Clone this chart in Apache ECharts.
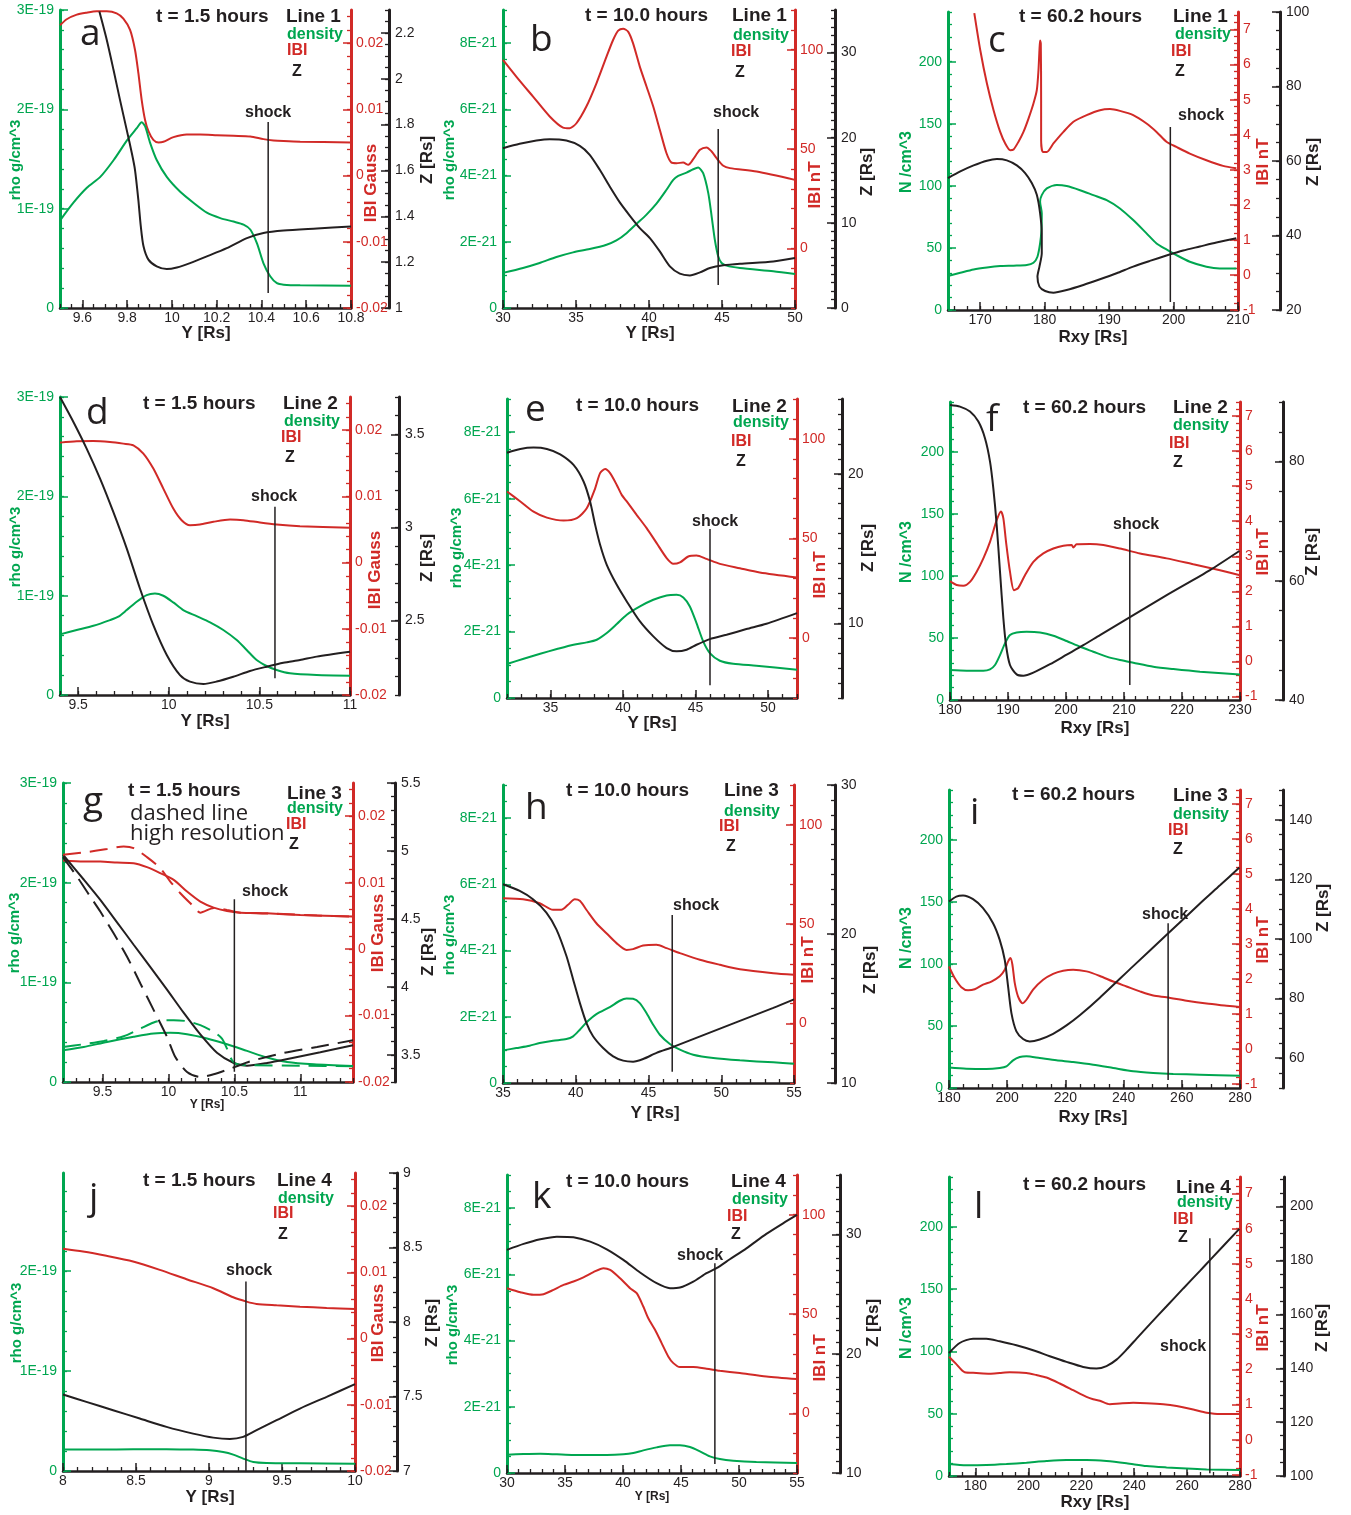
<!DOCTYPE html>
<html lang="en">
<head>
<meta charset="utf-8">
<title>Density, |B| and Z along field lines</title>
<script src="https://cdn.jsdelivr.net/npm/echarts@6.0.0/dist/echarts.min.js"></script>
<style>
  html, body { margin: 0; padding: 0; background: #fff; }
  #chart { width: 1351px; height: 1515px; }
</style>
</head>
<body>
<div id="chart"></div>
<script>
// ---------------------------------------------------------------------------
// Profiles along four field lines at t = 1.5 h, 10.0 h and 60.2 h.
// Each series is a list of [position, value] pairs.
// density: rho in 1e-19 g/cm^3 (1.5 h), 1e-21 g/cm^3 (10 h) or N in /cm^3 (60.2 h)
// field:   |B| in Gauss (1.5 h) or nT (10 h, 60.2 h)
// z:       Z in solar radii
// ---------------------------------------------------------------------------

// a: t = 1.5 h, line 1
const aDensity = [[9.5,0.88],[9.56,1.06],[9.62,1.21],[9.68,1.32],[9.74,1.49],[9.80,1.69],[9.843,1.81],[9.865,1.87],[9.88,1.83],[9.903,1.66],[9.932,1.49],[9.977,1.32],[10.037,1.17],[10.096,1.06],[10.156,0.96],[10.216,0.905],[10.275,0.87],[10.32,0.84],[10.35,0.79],[10.38,0.65],[10.409,0.45],[10.439,0.32],[10.469,0.25],[10.499,0.235],[10.573,0.228],[10.8,0.225]];
const aField = [[9.5,0.0227],[9.53,0.0236],[9.575,0.0243],[9.619,0.0246],[9.664,0.0248],[9.709,0.0248],[9.753,0.0245],[9.783,0.0237],[9.813,0.0220],[9.835,0.0190],[9.85,0.0155],[9.865,0.0114],[9.88,0.0084],[9.895,0.0067],[9.917,0.0054],[9.94,0.0050],[9.962,0.0051],[10.007,0.0058],[10.066,0.0062],[10.126,0.0062],[10.201,0.0061],[10.275,0.0060],[10.35,0.0059],[10.409,0.0055],[10.454,0.0053],[10.499,0.0052],[10.573,0.0051],[10.8,0.0050]];
const aZ = [[9.676,2.293],[9.709,2.169],[9.739,2.039],[9.768,1.908],[9.798,1.777],[9.821,1.675],[9.835,1.603],[9.85,1.472],[9.861,1.356],[9.873,1.269],[9.895,1.211],[9.932,1.182],[9.977,1.170],[10.022,1.177],[10.081,1.196],[10.156,1.225],[10.245,1.261],[10.335,1.305],[10.409,1.327],[10.499,1.338],[10.648,1.347],[10.8,1.356]];

// b: t = 10 h, line 1
const bDensity = [[30,1.06],[31.37,1.21],[32.51,1.36],[33.66,1.54],[34.80,1.68],[35.94,1.78],[37.09,1.91],[37.77,2.04],[38.46,2.26],[39.14,2.54],[39.83,2.82],[40.51,3.15],[41.20,3.57],[41.66,3.87],[42.0,3.99],[42.57,4.09],[43.03,4.19],[43.37,4.24],[43.71,4.07],[44.06,3.47],[44.29,2.77],[44.51,2.06],[44.74,1.56],[44.97,1.36],[45.31,1.28],[46.23,1.21],[48.51,1.11],[50,1.03]];
const bField = [[30,94.9],[30.91,86.5],[32.06,76.4],[33.20,66.4],[34.11,60.8],[34.57,60.5],[35.03,63.0],[35.71,71.4],[36.40,83.1],[37.09,96.5],[37.54,104.9],[37.89,109.6],[38.23,110.6],[38.57,109.1],[38.91,103.2],[39.37,91.5],[39.83,81.5],[40.29,71.4],[40.74,59.7],[41.20,47.9],[41.54,43.2],[41.89,42.9],[42.34,43.2],[42.69,42.1],[43.03,44.9],[43.49,49.6],[43.94,50.8],[44.29,48.8],[44.63,45.4],[45.09,41.6],[45.54,40.4],[47.37,38.7],[50,34.5]];
const bZ = [[30,18.77],[31.14,19.28],[32.29,19.67],[33.20,19.83],[34.34,19.67],[35.26,19.04],[35.94,17.99],[36.63,16.23],[37.31,14.27],[38.00,12.40],[38.69,10.83],[39.37,9.39],[40.06,8.21],[40.74,6.65],[41.43,4.89],[42.11,4.03],[42.80,3.83],[43.49,4.18],[44.17,4.69],[45.09,5.01],[46.23,5.20],[48.51,5.47],[50,5.87]];

// c: t = 60.2 h, line 1
const cDensity = [[165,27.4],[166.91,30.0],[168.97,32.7],[171.04,34.3],[173.10,35.4],[175.17,35.7],[177.23,36.2],[178.26,38.1],[178.88,42.9],[179.29,53.6],[179.50,64.4],[179.55,77.8],[179.29,87.2],[179.55,92.5],[180.33,97.9],[181.88,100.6],[183.42,99.8],[185.49,96.5],[187.55,92.5],[189.62,88.5],[191.68,81.8],[193.74,72.4],[195.81,61.7],[197.36,53.6],[198.90,48.8],[200.45,44.2],[202.52,38.9],[205.10,34.9],[207.16,33.5],[209.74,33.5]];
const cField = [[169.08,7.47],[170.01,6.41],[171.04,5.46],[172.07,4.70],[173.10,4.08],[173.88,3.75],[174.65,3.56],[175.17,3.58],[175.94,3.80],[176.71,4.08],[177.49,4.46],[178.26,4.89],[178.78,5.27],[179.04,5.84],[179.19,6.41],[179.29,6.69],[179.40,6.60],[179.45,4.98],[179.45,3.84],[179.71,3.51],[180.33,3.51],[181.36,3.75],[182.91,4.08],[184.46,4.37],[186.52,4.56],[188.58,4.70],[190.13,4.73],[191.68,4.68],[193.74,4.56],[195.81,4.32],[197.36,4.08],[198.90,3.80],[200.45,3.65],[202.52,3.46],[205.10,3.27],[207.68,3.11],[209.74,3.04]];
const cZ = [[165,55.43],[166.91,57.22],[168.97,58.83],[171.04,60.09],[172.59,60.54],[174.13,60.18],[175.68,58.83],[176.97,56.77],[178.00,54.08],[178.78,50.94],[179.29,46.01],[179.55,40.63],[179.55,35.25],[179.19,31.66],[178.88,28.97],[179.19,26.28],[180.07,25.11],[181.36,24.66],[183.42,25.38],[186.0,26.73],[188.58,28.25],[191.16,29.87],[193.74,31.66],[196.32,33.18],[198.90,34.62],[201.49,35.96],[204.07,37.04],[206.65,38.12],[209.74,39.28]];

// d: t = 1.5 h, line 2
const dDensity = [[9.4,0.610],[9.492,0.654],[9.584,0.697],[9.676,0.754],[9.722,0.788],[9.768,0.855],[9.823,0.939],[9.878,1.006],[9.924,1.022],[9.970,0.999],[10.025,0.932],[10.080,0.855],[10.154,0.794],[10.228,0.731],[10.301,0.654],[10.375,0.553],[10.430,0.453],[10.485,0.352],[10.540,0.292],[10.595,0.251],[10.669,0.218],[10.816,0.201],[11.0,0.194]];
const dField = [[9.4,0.01811],[9.492,0.01831],[9.584,0.01836],[9.676,0.01821],[9.749,0.01796],[9.805,0.01771],[9.860,0.01645],[9.915,0.01419],[9.970,0.01117],[10.025,0.00816],[10.071,0.0064],[10.117,0.00564],[10.172,0.00574],[10.246,0.00615],[10.338,0.0065],[10.412,0.0064],[10.503,0.00604],[10.595,0.00574],[10.724,0.00549],[11.0,0.00524]];
const dZ = [[9.4,3.70],[9.474,3.566],[9.547,3.423],[9.621,3.262],[9.694,3.083],[9.768,2.887],[9.841,2.672],[9.915,2.475],[9.989,2.315],[10.062,2.207],[10.117,2.172],[10.191,2.159],[10.264,2.172],[10.356,2.198],[10.448,2.229],[10.540,2.252],[10.632,2.273],[10.724,2.288],[10.816,2.306],[11.0,2.332]];

// e: t = 10 h, line 2
const eDensity = [[32,1.022],[33.15,1.183],[34.29,1.333],[35.44,1.473],[36.59,1.604],[37.50,1.674],[38.19,1.754],[38.88,1.954],[39.57,2.225],[40.26,2.506],[41.17,2.756],[42.09,2.956],[43.01,3.087],[43.70,3.107],[44.16,3.027],[44.61,2.756],[45.07,2.255],[45.53,1.704],[45.99,1.353],[46.68,1.122],[47.60,1.032],[49.20,0.972],[52,0.852]];
const eField = [[32,73.6],[32.92,68.6],[33.83,63.5],[34.75,60.5],[35.90,59.0],[36.82,60.2],[37.50,65.2],[38.08,75.2],[38.42,82.8],[38.77,84.9],[39.11,82.8],[39.57,76.9],[39.91,71.9],[40.26,68.6],[40.94,61.9],[41.63,55.2],[42.32,47.7],[43.01,40.2],[43.47,37.3],[43.93,38.0],[44.50,41.0],[45.07,41.5],[45.76,39.8],[46.68,37.3],[48.06,35.1],[49.43,33.0],[52,30.5]];
const eZ = [[32,21.41],[32.92,21.66],[33.83,21.75],[34.75,21.66],[35.67,21.30],[36.59,20.59],[37.28,19.48],[37.73,18.14],[38.08,16.58],[38.42,15.25],[38.88,13.91],[39.57,12.57],[40.26,11.46],[41.17,10.12],[42.09,9.12],[43.01,8.34],[43.70,8.12],[44.39,8.23],[45.07,8.56],[45.99,8.94],[47.14,9.23],[48.51,9.61],[49.89,9.97],[52,10.68]];

// f: t = 60.2 h, line 2
const fDensity = [[180,24.1],[182.87,23.6],[185.75,23.6],[186.90,24.7],[187.76,28.2],[188.62,36.2],[189.48,45.6],[190.34,52.3],[191.49,54.4],[193.22,55.0],[195.52,54.4],[197.82,51.8],[200.11,47.5],[202.41,42.9],[204.71,38.9],[207.01,34.9],[209.31,32.2],[211.61,30.0],[215.06,26.8],[218.51,24.9],[223.10,22.8],[230,20.6]];
const fField = [[180,2.29],[181.15,2.18],[182.30,2.16],[183.45,2.27],[184.60,2.56],[185.75,2.94],[186.90,3.41],[188.05,4.03],[188.79,4.28],[189.20,4.08],[189.66,3.41],[190.34,2.56],[191.03,2.03],[191.78,2.10],[192.93,2.46],[194.37,2.84],[196.09,3.08],[197.82,3.22],[199.54,3.30],[200.98,3.32],[201.26,3.25],[201.84,3.34],[204.14,3.35],[206.44,3.32],[209.31,3.22],[212.76,3.08],[217.36,2.94],[221.95,2.77],[226.55,2.60],[230,2.46]];
const fZ = [[180,89.51],[181.72,89.23],[183.45,88.39],[184.89,86.71],[186.03,83.92],[186.90,80.0],[187.47,75.52],[188.05,69.37],[188.62,61.54],[189.20,53.71],[189.66,49.23],[190.34,45.87],[191.49,44.3],[192.64,44.08],[194.37,44.6],[197.24,46.0],[200.11,47.6],[202.99,49.2],[205.86,50.9],[211.03,53.9],[217.36,57.6],[224.83,61.8],[229.89,65.0]];

// g: t = 1.5 h, line 3 (standard and high resolution runs)
const gDensity = [[9.2,0.318],[9.357,0.352],[9.534,0.402],[9.736,0.453],[9.888,0.486],[10.014,0.493],[10.141,0.479],[10.292,0.436],[10.444,0.379],[10.596,0.312],[10.748,0.245],[10.899,0.201],[11.102,0.178],[11.4,0.161]];
const gField = [[9.2,0.01334],[9.357,0.01318],[9.483,0.01318],[9.610,0.01303],[9.736,0.01293],[9.837,0.01233],[9.938,0.01143],[10.040,0.01042],[10.141,0.00866],[10.242,0.00715],[10.343,0.00625],[10.444,0.00574],[10.545,0.00549],[10.748,0.00539],[11.0,0.00514],[11.4,0.00489]];
const gZ = [[9.2,4.972],[9.357,4.79],[9.483,4.64],[9.610,4.475],[9.736,4.31],[9.863,4.145],[9.989,3.98],[10.115,3.81],[10.242,3.65],[10.368,3.515],[10.495,3.44],[10.596,3.42],[10.748,3.44],[10.950,3.479],[11.152,3.519],[11.4,3.570]];
const gDensityHiRes = [[9.2,0.352],[9.357,0.379],[9.509,0.412],[9.660,0.459],[9.787,0.536],[9.888,0.597],[9.964,0.620],[10.040,0.620],[10.141,0.610],[10.242,0.570],[10.343,0.503],[10.406,0.436],[10.444,0.335],[10.482,0.218],[10.520,0.178],[10.646,0.168],[11.0,0.164],[11.4,0.158]];
const gFieldHiRes = [[9.2,0.01419],[9.357,0.01454],[9.534,0.01505],[9.660,0.01545],[9.736,0.0152],[9.837,0.01384],[9.938,0.01218],[10.014,0.01017],[10.090,0.00841],[10.166,0.0069],[10.242,0.00549],[10.343,0.0062],[10.444,0.00589],[10.545,0.00549],[10.874,0.00529],[11.127,0.00504],[11.4,0.00489]];
const gZHiRes = [[9.2,4.954],[9.306,4.812],[9.407,4.664],[9.483,4.554],[9.584,4.394],[9.686,4.222],[9.787,4.025],[9.888,3.829],[9.989,3.632],[10.052,3.484],[10.141,3.374],[10.242,3.337],[10.343,3.357],[10.469,3.398],[10.621,3.452],[10.874,3.514],[11.127,3.558],[11.4,3.607]];

// h: t = 10 h, line 3
const hDensity = [[35,0.985],[35.92,1.056],[36.83,1.126],[37.52,1.207],[38.44,1.277],[39.36,1.327],[39.82,1.408],[40.28,1.609],[40.73,1.830],[41.42,2.082],[42.34,2.293],[43.03,2.484],[43.49,2.554],[43.94,2.544],[44.40,2.413],[44.86,2.112],[45.32,1.760],[45.78,1.458],[46.47,1.177],[47.16,1.006],[48.07,0.855],[49.45,0.754],[51.28,0.684],[53.58,0.623],[55,0.583]];
const hField = [[35,63.0],[36.38,62.5],[37.52,60.5],[38.44,57.2],[39.01,57.2],[39.47,59.7],[39.93,62.5],[40.28,61.7],[40.73,57.2],[41.42,50.4],[42.11,45.4],[42.80,40.4],[43.49,37.0],[43.94,37.4],[44.63,39.2],[45.55,39.6],[46.24,37.9],[47.16,35.4],[48.53,32.0],[49.91,29.5],[51.28,27.3],[53.58,25.3],[55,24.5]];
const hZ = [[35,23.34],[36.15,22.89],[37.06,22.33],[37.98,21.44],[38.67,20.31],[39.36,18.52],[39.82,16.95],[40.28,15.38],[40.73,14.04],[41.19,13.14],[41.88,12.35],[42.57,11.79],[43.26,11.50],[43.94,11.43],[44.63,11.61],[45.55,12.02],[46.70,12.42],[48.99,13.30],[51.28,14.17],[53.58,15.04],[55,15.61]];

// i: t = 60.2 h, line 3
const iDensity = [[180,16.6],[185.96,15.6],[192.84,15.3],[197.43,16.1],[199.72,17.4],[202.02,22.3],[204.31,24.9],[206.61,25.5],[211.19,24.1],[216.93,22.3],[222.66,20.9],[229.54,18.8],[236.42,16.1],[243.30,13.4],[250.18,12.1],[257.06,11.3],[266.24,10.7],[280,9.9]];
const iField = [[180,2.36],[181.95,2.03],[184.24,1.77],[186.54,1.68],[188.83,1.71],[191.70,1.84],[194.56,1.93],[197.43,2.08],[199.15,2.27],[200.30,2.50],[201.10,2.60],[201.79,2.41],[202.59,1.89],[203.74,1.50],[205.23,1.31],[206.61,1.41],[208.90,1.70],[212.34,1.98],[215.78,2.15],[219.22,2.24],[222.66,2.27],[227.25,2.22],[231.83,2.09],[236.42,1.93],[241.01,1.79],[245.60,1.65],[250.18,1.53],[254.77,1.48],[261.65,1.38],[268.53,1.30],[275.41,1.24],[280,1.20]];
const iZ = [[180,112.57],[182.52,114.24],[184.82,114.58],[188.26,113.35],[191.70,110.33],[195.14,105.31],[197.43,99.72],[199.15,93.02],[200.30,84.08],[201.45,75.14],[203.17,68.99],[205.46,66.42],[207.75,65.64],[211.19,66.3],[215.78,68.2],[220.37,71.0],[224.95,74.4],[231.83,80.3],[243.30,90.9],[255.34,101.9],[266.24,111.9],[273.12,118.0],[279.77,123.97]];

// j: t = 1.5 h, line 4
const jDensity = [[8,0.214],[8.251,0.214],[8.480,0.217],[8.709,0.217],[8.891,0.214],[9.006,0.207],[9.097,0.190],[9.166,0.164],[9.234,0.124],[9.303,0.090],[9.394,0.080],[9.623,0.077],[10,0.073]];
const jField = [[8,0.01355],[8.137,0.01314],[8.297,0.01249],[8.480,0.01163],[8.663,0.01037],[8.846,0.00896],[9.029,0.00760],[9.166,0.00623],[9.257,0.00558],[9.326,0.00522],[9.463,0.00502],[9.623,0.00482],[9.806,0.00462],[10,0.00447]];
const jZ = [[8,7.513],[8.16,7.464],[8.343,7.408],[8.526,7.352],[8.709,7.296],[8.891,7.251],[9.029,7.224],[9.143,7.215],[9.234,7.229],[9.326,7.274],[9.463,7.341],[9.623,7.419],[9.806,7.498],[10,7.583]];

// k: t = 10 h, line 4
const kDensity = [[30,0.553],[31.43,0.573],[32.87,0.583],[34.30,0.563],[35.73,0.543],[37.17,0.543],[38.60,0.543],[40.03,0.563],[40.89,0.603],[41.75,0.684],[42.90,0.774],[44.05,0.835],[44.91,0.835],[45.77,0.784],[46.63,0.654],[47.49,0.503],[48.35,0.422],[49.50,0.372],[51.50,0.332],[55,0.302]];
const kField = [[30,63.0],[31.15,61.0],[32.29,59.7],[33.15,60.0],[34.01,62.2],[34.87,64.7],[35.73,66.4],[36.59,68.5],[37.45,71.1],[38.31,73.1],[38.89,72.2],[39.75,68.0],[40.61,63.0],[41.18,60.5],[41.75,53.8],[42.18,47.9],[42.76,42.1],[43.33,35.4],[43.90,28.7],[44.34,25.3],[44.91,23.3],[46.06,23.3],[47.20,22.5],[48.35,21.5],[50.07,20.3],[52.36,18.6],[55,17.3]];
const kZ = [[30,28.72],[31.43,29.22],[32.87,29.61],[34.30,29.83],[35.73,29.78],[37.17,29.41],[38.60,28.77],[40.03,27.88],[41.47,26.82],[42.90,25.92],[44.05,25.50],[44.91,25.56],[46.06,26.06],[47.20,26.76],[48.06,27.18],[49.21,27.93],[50.64,28.85],[52.36,30.06],[53.80,30.95],[55,31.65]];

// l: t = 60.2 h, line 4
const lDensity = [[170,9.6],[176.56,8.6],[184.13,8.8],[191.70,9.6],[199.27,10.7],[206.84,12.0],[214.41,12.8],[221.97,12.8],[229.54,12.0],[237.11,10.2],[244.68,8.0],[252.25,6.9],[259.82,6.1],[267.39,5.3],[280,4.8]];
const lField = [[170,2.36],[172.78,2.15],[175.93,1.92],[180.34,1.90],[185.39,1.88],[189.17,1.90],[192.96,1.92],[199.27,1.90],[203.05,1.84],[206.84,1.77],[211.88,1.60],[216.93,1.41],[221.97,1.22],[224.50,1.15],[227.02,1.11],[230.80,1.01],[234.59,1.03],[239.63,1.05],[244.68,1.04],[250.99,1.01],[256.03,0.96],[262.34,0.86],[267.39,0.77],[272.43,0.73],[280,0.73]];
const lZ = [[170,145.68],[174.04,149.38],[179.08,150.99],[184.13,150.99],[189.17,150.0],[195.48,148.52],[201.79,146.67],[208.10,144.45],[214.41,142.35],[220.71,140.49],[225.76,139.88],[229.54,140.8],[233.33,143.2],[237.11,146.9],[240.90,151.0],[245.94,156.4],[252.25,163.0],[258.56,169.63],[264.87,176.17],[268.65,180.13],[279.75,191.73]];

// Shock position along each line, panels a..l
const shockX = [10.43, 44.74, 199.5, 10.586, 46.0, 211.0, 10.5, 46.63, 255.3, 9.253, 47.92, 268.6];

// Axis ranges and tick steps: [min, max, minor step, labelled step]
// order: position axis, density, |B|, Z
const aAxes = [[9.5, 10.8, 0.05, 0.2], [0, 3, 0.2, 1], [-0.02, 0.025, 0.002, 0.01], [1, 2.3, 0.05, 0.2]];
const bAxes = [[30, 50, 1, 5], [0, 9, 0.5, 2], [-30, 120, 10, 50], [0, 35, 1, 10]];
const cAxes = [[165, 210, 2, 10], [0, 240, 10, 50], [-1, 7.5, 0.2, 1], [20, 100, 5, 20]];
const dAxes = [[9.4, 11, 0.1, 0.5], [0, 3, 0.2, 1], [-0.02, 0.025, 0.002, 0.01], [2.1, 3.7, 0.1, 0.5]];
const eAxes = [[32, 52, 1, 5], [0, 9, 0.5, 2], [-30, 120, 10, 50], [5, 25, 1, 10]];
const fAxes = [[180, 230, 2, 10], [0, 240, 10, 50], [-1.1, 7.4, 0.2, 1], [40, 90, 5, 20]];
const gAxes = [[9.2, 11.4, 0.1, 0.5], [0, 3, 0.2, 1], [-0.02, 0.025, 0.002, 0.01], [3.3, 5.5, 0.1, 0.5]];
const hAxes = [[35, 55, 1, 5], [0, 9, 0.5, 2], [-30, 120, 10, 50], [10, 30, 1, 10]];
const iAxes = [[180, 280, 5, 20], [0, 240, 10, 50], [-1.11, 7.4, 0.2, 1], [50, 150, 5, 20]];
const jAxes = [[8, 10, 0.1, 0.5], [0, 2.98, 0.2, 1], [-0.02, 0.025, 0.002, 0.01], [7, 9, 0.1, 0.5]];
const kAxes = [[30, 55, 1, 5], [0, 9, 0.5, 2], [-30, 120, 10, 50], [10, 35, 1, 10]];
const lAxes = [[170, 280, 5, 20], [0, 240, 10, 50], [-1.03, 7.47, 0.2, 1], [100, 211, 5, 20]];

// ---------------------------------------------------------------------------
// Layout of the twelve panels (pixel placement of plots and annotations)
// ---------------------------------------------------------------------------
const RHO = 'rho g/cm^3', NDEN = 'N /cm^3', GAUSS = 'IBI Gauss', NT = 'IBI nT', YRS = 'Y [Rs]', RXY = 'Rxy [Rs]';
const panels = [
  { axes: aAxes, exp: '-19', data: [aDensity, aField, aZ], rect: [60, 10, 351, 308], zAt: 389, span: [0.05, 0.624],
    title: [156, 17, 't = 1.5 hours'], line: [286, 17, 'Line 1'], legend: [287, 35, 287, 51, 292, 72], letter: ['a', 80, 34], shock: [245, 113],
    dens: [16, 160, RHO], field: [371, 183, GAUSS], z: [427, 160], xname: [206, 333, YRS, 17] },
  { axes: bAxes, exp: '-21', data: [bDensity, bField, bZ], rect: [503, 10, 795, 308], zAt: 835, span: [0.077, 0.601],
    title: [585, 16, 't = 10.0 hours'], line: [732, 16, 'Line 1'], legend: [733, 36, 731, 52, 735, 73], letter: ['b', 530, 40], shock: [713, 113],
    dens: [450, 160, RHO], field: [815, 185, NT], z: [867, 172], xname: [650, 333, YRS, 17] },
  { axes: cAxes, exp: null, data: [cDensity, cField, cZ], rect: [948, 12, 1238, 310], zAt: 1280, span: [0.027, 0.614],
    title: [1019, 17, 't = 60.2 hours'], line: [1173, 17, 'Line 1'], legend: [1175, 35, 1171, 52, 1175, 72], letter: ['c', 988, 41], shock: [1178, 116],
    dens: [907, 162, NDEN], field: [1263, 162, NT], z: [1313, 162], xname: [1093, 337, RXY, 17] },
  { axes: dAxes, exp: '-19', data: [dDensity, dField, dZ], rect: [60, 397, 350, 695], zAt: 399, span: [0.056, 0.632],
    title: [143, 404, 't = 1.5 hours'], line: [283, 404, 'Line 2'], legend: [284, 422, 281, 438, 285, 458], letter: ['d', 86, 413], shock: [251, 497],
    dens: [16, 547, RHO], field: [375, 570, GAUSS], z: [427, 558], xname: [205, 721, YRS, 17] },
  { axes: eAxes, exp: '-21', data: [eDensity, eField, eZ], rect: [507, 399, 797, 698], zAt: 842, span: [0.043, 0.565],
    title: [576, 406, 't = 10.0 hours'], line: [732, 407, 'Line 2'], legend: [733, 423, 731, 442, 736, 462], letter: ['e', 525, 410], shock: [692, 522],
    dens: [457, 548, RHO], field: [820, 575, NT], z: [868, 548], xname: [652, 723, YRS, 17] },
  { axes: fAxes, exp: null, data: [fDensity, fField, fZ], rect: [950, 402, 1240, 700], zAt: 1283, span: [0.05, 0.565],
    title: [1023, 408, 't = 60.2 hours'], line: [1173, 408, 'Line 2'], legend: [1173, 426, 1169, 444, 1173, 463], letter: ['f', 986, 420], shock: [1113, 525],
    dens: [907, 552, NDEN], field: [1263, 552, NT], z: [1312, 552], xname: [1095, 728, RXY, 17] },
  { axes: gAxes, exp: '-19', data: [gDensity, gField, gZ], hires: [gDensityHiRes, gFieldHiRes, gZHiRes], rect: [63, 783, 353, 1082], zAt: 395, span: [0.034, 0.611],
    title: [128, 791, 't = 1.5 hours'], line: [287, 794, 'Line 3'], legend: [287, 809, 286, 825, 289, 845], letter: ['g', 83, 802], shock: [242, 892],
    notes: [[130, 814, 'dashed line'], [130, 834, 'high resolution']],
    dens: [15, 933, RHO], field: [378, 933, GAUSS], z: [428, 952], xname: [207, 1105, YRS, 12] },
  { axes: hAxes, exp: '-21', data: [hDensity, hField, hZ], rect: [503, 785, 794, 1083], zAt: 835, span: [0.038, 0.564],
    title: [566, 791, 't = 10.0 hours'], line: [724, 791, 'Line 3'], legend: [724, 812, 719, 827, 726, 847], letter: ['h', 525, 808], shock: [673, 906],
    dens: [450, 935, RHO], field: [808, 960, NT], z: [870, 970], xname: [655, 1113, YRS, 17] },
  { axes: iAxes, exp: null, data: [iDensity, iField, iZ], rect: [949, 790, 1240, 1088], zAt: 1283, span: [0.027, 0.553],
    title: [1012, 795, 't = 60.2 hours'], line: [1173, 796, 'Line 3'], legend: [1173, 815, 1168, 831, 1173, 850], letter: ['i', 970, 813], shock: [1142, 915],
    dens: [907, 938, NDEN], field: [1263, 940, NT], z: [1323, 908], xname: [1093, 1117, RXY, 17] },
  { axes: jAxes, exp: '-19', data: [jDensity, jField, jZ], rect: [63, 1173, 355, 1471], zAt: 397, span: [0, 0.636],
    title: [143, 1181, 't = 1.5 hours'], line: [277, 1181, 'Line 4'], legend: [278, 1199, 273, 1214, 278, 1235], letter: ['j', 89, 1198], shock: [226, 1271],
    dens: [17, 1323, RHO], field: [378, 1323, GAUSS], z: [432, 1323], xname: [210, 1497, YRS, 17] },
  { axes: kAxes, exp: '-21', data: [kDensity, kField, kZ], rect: [507, 1175, 797, 1473], zAt: 840, span: [0.03, 0.704],
    title: [566, 1182, 't = 10.0 hours'], line: [731, 1182, 'Line 4'], legend: [732, 1200, 727, 1217, 731, 1235], letter: ['k', 532, 1197], shock: [677, 1256],
    dens: [453, 1325, RHO], field: [820, 1358, NT], z: [873, 1323], xname: [652, 1497, YRS, 12] },
  { axes: lAxes, exp: null, data: [lDensity, lField, lZ], rect: [949, 1177, 1240, 1476], zAt: 1284, span: [0.009, 0.795],
    title: [1023, 1185, 't = 60.2 hours'], line: [1176, 1188, 'Line 4'], legend: [1177, 1203, 1173, 1220, 1178, 1238], letter: ['l', 974, 1207], shock: [1160, 1347],
    dens: [907, 1328, NDEN], field: [1263, 1328, NT], z: [1322, 1328], xname: [1095, 1502, RXY, 17] }
];

// ---------------------------------------------------------------------------
const FONT = '"Liberation Sans", Arial, Helvetica, sans-serif';
const LETTER_FONT = '"Open Sans", "DejaVu Sans", sans-serif';
const GREEN = '#00a650', RED = '#d12a27', BLACK = '#231f20';

function ticks(min, max, step) {
  const out = [];
  for (let n = Math.ceil(min / step - 1e-6); ; n++) {
    const v = +(n * step).toPrecision(12);
    if (v > max + step * 1e-6) break;
    out.push(v);
  }
  return out;
}
const plain = v => String(+v.toFixed(6));
const sci = exp => v => (v === 0 ? '0' : plain(v) + 'E' + exp);

const xAxes = [], yAxes = [], grids = [], series = [], graphics = [];

// one axis with short ticks and labels plus a twin carrying the longer labelled ticks
function addAxis(list, base, spec, color, lineWidth, fmt, margin, labelColor) {
  const [min, max, minor, major] = spec;
  const index = list.length;
  list.push(Object.assign({}, base, {
    type: 'value', min, max,
    axisLine: { show: true, onZero: false, lineStyle: { color, width: lineWidth } },
    axisTick: { show: true, inside: true, length: 4, customValues: ticks(min, max, minor), lineStyle: { color, width: 1.3 } },
    axisLabel: { show: true, customValues: ticks(min, max, major), formatter: fmt, color: labelColor,
                 fontFamily: FONT, fontSize: 14, margin },
    splitLine: { show: false }
  }));
  list.push(Object.assign({}, base, {
    type: 'value', min, max,
    axisLine: { show: false, onZero: false },
    axisTick: { show: true, inside: true, length: 8, customValues: ticks(min, max, major), lineStyle: { color, width: 1.5 } },
    axisLabel: { show: false },
    splitLine: { show: false }
  }));
  return index;
}

function text(x, y, str, size, color, weight, family, align) {
  const a = align || 'left';
  return {
    type: 'text', x, y, silent: true, z: 20,
    style: { text: str, fill: color, font: `${weight} ${size}px ${family}`,
             textAlign: a, textVerticalAlign: 'middle', align: a, verticalAlign: 'middle' }
  };
}
function vtext(x, y, str, size, color) {
  return {
    type: 'text', x, y, rotation: Math.PI / 2, silent: true, z: 20,
    style: { text: str, fill: color, font: `bold ${size}px ${FONT}`,
             textAlign: 'center', textVerticalAlign: 'middle', align: 'center', verticalAlign: 'middle' }
  };
}

function line(xi, yi, data, color, dashed) {
  return {
    type: 'line', xAxisIndex: xi, yAxisIndex: yi, data, symbol: 'none', showSymbol: false,
    smooth: 0.25, silent: true, animation: false, clip: true,
    lineStyle: { color, width: 2, type: dashed ? [18, 9] : 'solid' }
  };
}

panels.forEach((p, gi) => {
  const [left, top, right, bottom] = p.rect;
  grids.push({ left, top, width: right - left, height: bottom - top, containLabel: false });
  const [xs, ds, fs, zs] = p.axes;

  const xi = addAxis(xAxes, { gridIndex: gi, position: 'bottom' }, xs, BLACK, 2.5, plain, 3, BLACK);
  const di = addAxis(yAxes, { gridIndex: gi, position: 'left', offset: 0 }, ds, GREEN, 3,
                     p.exp ? sci(p.exp) : plain, 6, GREEN);
  const fi = addAxis(yAxes, { gridIndex: gi, position: 'right', offset: 0 }, fs, RED, 3, plain, 5, RED);
  const zi = addAxis(yAxes, { gridIndex: gi, position: 'right', offset: p.zAt - right }, zs, BLACK, 3, plain, 6, BLACK);

  const [dens, field, z] = p.data;
  series.push(line(xi, fi, field, RED));
  series.push(line(xi, di, dens, GREEN));
  series.push(line(xi, zi, z, BLACK));
  if (p.hires) {
    series.push(line(xi, fi, p.hires[1], RED, true));
    series.push(line(xi, di, p.hires[0], GREEN, true));
    series.push(line(xi, zi, p.hires[2], BLACK, true));
  }

  // shock marker: vertical segment at the shock position
  const sx = shockX[gi];
  const dmin = ds[0], dspan = ds[1] - ds[0];
  series.push({
    type: 'line', xAxisIndex: xi, yAxisIndex: di, symbol: 'none', silent: true, animation: false,
    data: [[sx, dmin + p.span[0] * dspan], [sx, dmin + p.span[1] * dspan]],
    lineStyle: { color: BLACK, width: 1.5 }
  });

  // annotations
  graphics.push(text(p.title[0], p.title[1], p.title[2], 19, BLACK, 'bold', FONT));
  graphics.push(text(p.line[0], p.line[1], p.line[2], 19, BLACK, 'bold', FONT));
  const lg = p.legend;
  graphics.push(text(lg[0], lg[1], 'density', 16, GREEN, 'bold', FONT));
  graphics.push(text(lg[2], lg[3], 'IBI', 16, RED, 'bold', FONT));
  graphics.push(text(lg[4], lg[5], 'Z', 16, BLACK, 'bold', FONT));
  graphics.push(text(p.letter[1], p.letter[2], p.letter[0], 37, BLACK, 'normal', LETTER_FONT));
  graphics.push(text(p.shock[0], p.shock[1], 'shock', 16, BLACK, 'bold', FONT));
  if (p.notes) p.notes.forEach(n => graphics.push(text(n[0], n[1], n[2], 22, BLACK, 'normal', LETTER_FONT)));

  graphics.push(vtext(p.dens[0], p.dens[1], p.dens[2], p.exp ? 15 : 16, GREEN));
  graphics.push(vtext(p.field[0], p.field[1], p.field[2], 17, RED));
  graphics.push(vtext(p.z[0], p.z[1], 'Z [Rs]', 17, BLACK));
  graphics.push(text(p.xname[0], p.xname[1], p.xname[2], p.xname[3], BLACK, 'bold', FONT, 'center'));
});

const chart = echarts.init(document.getElementById('chart'), null, { renderer: 'canvas' });
chart.setOption({
  backgroundColor: '#ffffff',
  animation: false,
  grid: grids,
  xAxis: xAxes,
  yAxis: yAxes,
  series,
  graphic: { elements: graphics }
});
</script>
</body>
</html>
